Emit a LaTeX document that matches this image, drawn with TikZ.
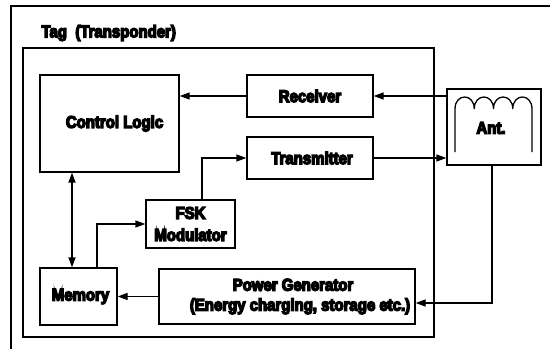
\documentclass[tikz,border=0pt]{standalone}
\usepackage{fontspec}
\setmainfont{Liberation Sans}[BoldFeatures={FakeBold=8, FakeStretch=0.88}]
\usetikzlibrary{arrows.meta}
\tikzset{
  box/.style={draw, line width=1.3pt, inner sep=0pt, align=center,
    font=\fontsize{17}{22}\selectfont\bfseries},
  lbl/.style={font=\fontsize{17}{20}\selectfont\bfseries},
  conn/.style={line width=1.3pt},
  arr/.style={conn, -{Triangle[length=10pt,width=7pt]}},
  darr/.style={conn, {Triangle[length=10pt,width=7pt]}-{Triangle[length=10pt,width=7pt]}},
  frame/.style={line width=1.3pt}
}
\begin{document}
\begin{tikzpicture}[x=1pt,y=-1pt]
\useasboundingbox (0,0) rectangle (550,349);
% outer frame
\draw[frame] (550,6) -- (11,6) -- (11,349);
% inner frame
\draw[frame] (23,48) rectangle (434,337);
\node[lbl, anchor=west] (title) at (38,33) {Tag\ \ (Transponder)};
% boxes
\node[box, minimum width=139pt, minimum height=97pt] (cl) at (109.5,123.5) {\hspace*{10pt}Control Logic};
\node[box, minimum width=126pt, minimum height=42pt] (rec) at (310,96) {Receiver};
\node[box, minimum width=126pt, minimum height=42pt] (tx) at (310,158) {\hspace*{4pt}Transmitter};
\node[box, minimum width=94pt, minimum height=76pt] (ant) at (494,127) {};
\node[lbl] (antlbl) at (491,128) {Ant.};
\node[box, minimum width=89pt, minimum height=48pt] (fsk) at (190.5,224) {FSK\\Modulator};
\node[box, minimum width=77pt, minimum height=57pt] (mem) at (78.5,296.5) {\hspace*{4pt}Memory};
\node[box, minimum width=256pt, minimum height=55pt, font=\fontsize{17}{20}\selectfont\bfseries] (pg) at (287,296.5) {\hspace*{12pt}Power Generator\\\hspace*{26pt}(Energy charging, storage etc.)};
% antenna coil
\draw[conn] (455,152) -- (455,109)
  .. controls (455,93) and (474.25,93) .. (474.25,109)
  .. controls (474.25,93) and (493.5,93) .. (493.5,109)
  .. controls (493.5,93) and (512.75,93) .. (512.75,109)
  .. controls (512.75,93) and (532,93) .. (532,109)
  -- (532,152);
% connectors
\draw[arr] (ant.west |- rec.east) -- (rec.east);
\draw[arr] (rec.west) -- (rec.west -| cl.east);
\draw[arr] (tx.east) -- (tx.east -| ant.west);
\draw[arr] ([xshift=11.5pt]fsk.north) |- (tx.west);
\draw[arr] ([xshift=18.5pt]mem.north) |- (fsk.west);
\draw[darr] ([xshift=-6.5pt]mem.north |- cl.south) -- ([xshift=-6.5pt]mem.north);
\draw[arr] (pg.west) -- (pg.west -| mem.east);
\draw[arr] ([xshift=-2pt]ant.south) |- ([yshift=-6.5pt]pg.east);
\end{tikzpicture}
\end{document}
